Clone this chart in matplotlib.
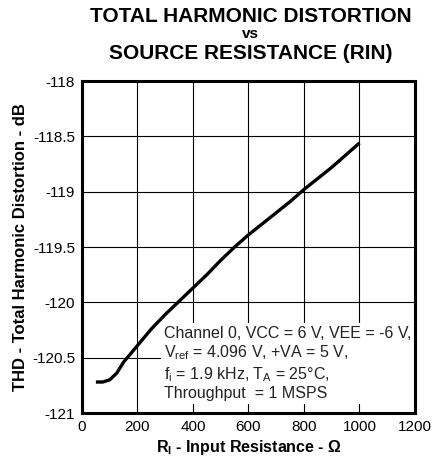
import matplotlib.pyplot as plt
import numpy as np

plt.rcParams['font.family'] = ['Liberation Sans', 'DejaVu Sans']
plt.rcParams['mathtext.fontset'] = 'custom'
plt.rcParams['mathtext.rm'] = 'Liberation Sans'
plt.rcParams['mathtext.bf'] = 'Liberation Sans:bold'

# THD readings against source resistance
r_in = [50, 75, 100, 125, 150, 200, 250, 300, 350, 400, 450, 500, 550,
        600, 650, 700, 750, 800, 850, 900, 950, 1000]
thd_db = [-120.72, -120.72, -120.70, -120.64, -120.54, -120.39, -120.24,
          -120.11, -119.99, -119.87, -119.75, -119.62, -119.50, -119.39,
          -119.29, -119.19, -119.09, -118.98, -118.88, -118.78, -118.67,
          -118.56]

x_ticks = [0, 200, 400, 600, 800, 1000, 1200]
y_ticks = [-121, -120.5, -120, -119.5, -119, -118.5, -118]
y_labels = ['-121', '-120.5', '-120', '-119.5', '-119', '-118.5', '-118']

fig = plt.figure(figsize=(4.35, 4.61), dpi=100)
ax = fig.add_axes([82 / 435, 1 - 413 / 461, 333 / 435, 332 / 461])

ax.plot(r_in, thd_db, color='black', linewidth=2.4, solid_capstyle='butt', zorder=3)

ax.set_xlim(0, 1200)
ax.set_ylim(-121, -118)
ax.set_xticks(x_ticks)
ax.set_yticks(y_ticks)
ax.set_yticklabels(y_labels)
ax.tick_params(length=0, labelsize=11, pad=5)
ax.grid(True, color='black', linewidth=0.8, zorder=1)

for side in ['left', 'right', 'top', 'bottom']:
    ax.spines[side].set_linewidth(2.2)
    ax.spines[side].set_zorder(5)

ax.set_xlabel(r'R$_\mathbf{I}$ - Input Resistance - Ω', fontsize=11.5,
              fontweight='bold', labelpad=3)
ax.set_ylabel('THD - Total Harmonic Distortion - dB', fontsize=12,
              fontweight='bold', labelpad=3)

# Test conditions block, white box over the grid
ax.text(0.245, 0.035,
        'Channel 0, VCC = 6 V, VEE = -6 V,\n'
        r'V$_\mathregular{ref}$ = 4.096 V, +VA = 5 V,' '\n'
        r'f$_\mathregular{i}$ = 1.9 kHz, T$_\mathregular{A}$ = 25°C,' '\n'
        'Throughput  = 1 MSPS',
        transform=ax.transAxes, fontsize=11.5, color='#222222',
        ha='left', va='bottom', linespacing=1.2, zorder=4,
        bbox=dict(facecolor='white', edgecolor='none', pad=2))

fig.text(0.576, 1 - 22 / 461, 'TOTAL HARMONIC DISTORTION', fontsize=15,
         fontweight='bold', ha='center', va='baseline')
fig.text(0.576, 1 - 38 / 461, 'vs', fontsize=11, fontweight='bold',
         ha='center', va='baseline')
fig.text(0.576, 1 - 59 / 461, 'SOURCE RESISTANCE (RIN)', fontsize=15,
         fontweight='bold', ha='center', va='baseline')

fig.savefig('out.png', dpi=100)
